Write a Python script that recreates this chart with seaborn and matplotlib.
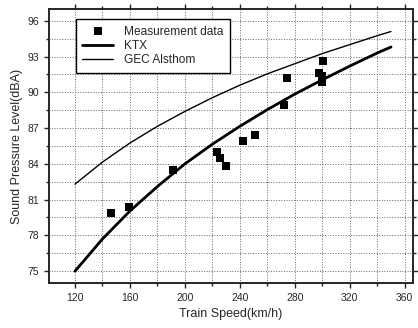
import numpy as np
import pandas as pd
import seaborn as sns
import matplotlib.pyplot as plt
from matplotlib.ticker import MultipleLocator

# measured points (km/h, dBA)
meas_speed = [146, 159.5, 191, 223, 225.5, 230, 242, 251, 272, 274, 297.5, 300, 300, 300, 300.5]
meas_spl = [79.9, 80.4, 83.5, 85.0, 84.5, 83.85, 85.9, 86.4, 88.9, 91.2, 91.6, 91.4, 91.1, 90.85, 92.6]

# prediction curves
curve_speed = [120, 140, 160, 180, 200, 220, 240, 260, 280, 300, 320, 340, 350]
ktx_spl = [75.0, 77.7, 80.05, 82.1, 84.0, 85.65, 87.15, 88.55, 89.85, 91.05, 92.2, 93.3, 93.8]
gec_spl = [82.3, 84.15, 85.75, 87.15, 88.4, 89.55, 90.6, 91.55, 92.4, 93.25, 94.0, 94.75, 95.1]

sns.set_style("ticks")
plt.rcParams['font.family'] = ['Liberation Sans', 'DejaVu Sans']

meas = pd.DataFrame({'speed': meas_speed, 'spl': meas_spl})
curves = pd.DataFrame({'speed': curve_speed, 'KTX': ktx_spl, 'GEC Alsthom': gec_spl})

fig = plt.figure(figsize=(4.18, 3.28), dpi=100)
ax = fig.add_axes([0.117, 0.137, 0.871, 0.836])

sns.scatterplot(data=meas, x='speed', y='spl', marker='s', s=30, color='black',
                edgecolor='black', linewidth=0, label='Measurement data', ax=ax, zorder=3)
sns.lineplot(data=curves, x='speed', y='KTX', color='black', linewidth=2.0,
             label='KTX', ax=ax, zorder=2)
sns.lineplot(data=curves, x='speed', y='GEC Alsthom', color='black', linewidth=1.0,
             label='GEC Alsthom', ax=ax, zorder=2)

ax.set_xlim(101, 366)
ax.set_ylim(74, 97)
ax.xaxis.set_major_locator(MultipleLocator(40))
ax.xaxis.set_minor_locator(MultipleLocator(20))
ax.yaxis.set_major_locator(MultipleLocator(3))
ax.yaxis.set_minor_locator(MultipleLocator(1.5))
ax.grid(True, which='both', linestyle=':', linewidth=0.7, color='0.4')

ax.tick_params(which='both', top=True, right=True, labelsize=7.5, width=1.0)
ax.tick_params(which='major', length=3.5)
ax.tick_params(which='minor', length=2)
for s in ax.spines.values():
    s.set_linewidth(1.4)

ax.set_xlabel('Train Speed(km/h)', fontsize=9, labelpad=4)
ax.set_ylabel('Sound Pressure Level(dBA)', fontsize=9, labelpad=3)

leg = ax.legend(loc='upper left', bbox_to_anchor=(0.074, 0.963), borderaxespad=0,
                fontsize=8.6, frameon=True, fancybox=False, edgecolor='black',
                framealpha=1, handlelength=2.6, handletextpad=0.9, borderpad=0.55,
                labelspacing=0.2)
leg.get_frame().set_linewidth(1.0)

fig.savefig('out.png', dpi=100)
